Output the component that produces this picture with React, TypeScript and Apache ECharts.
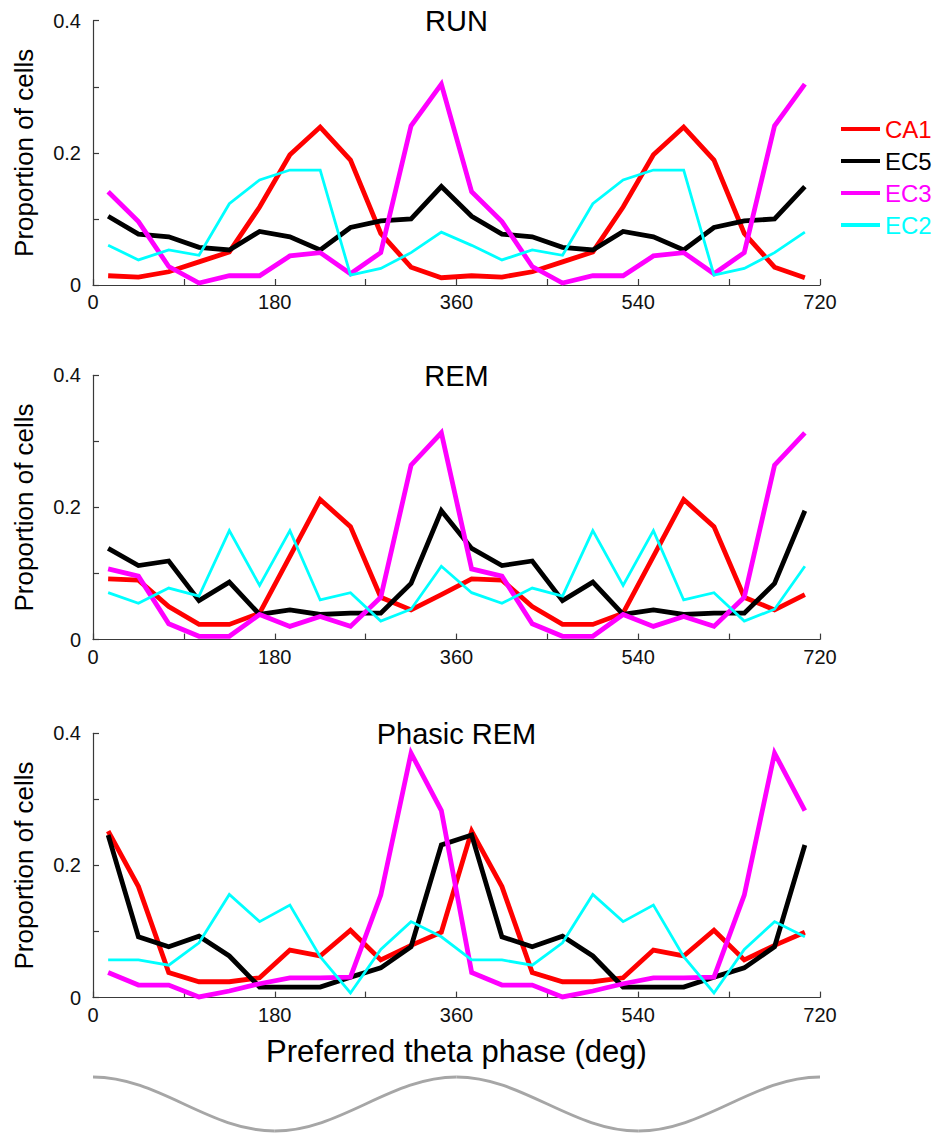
import React, { useEffect, useRef } from "react";
import * as echarts from "echarts";

// Phase bin centres (deg), two theta cycles shown
const phases = [15, 45, 75, 105, 135, 165, 195, 225, 255, 285, 315, 345,
  375, 405, 435, 465, 495, 525, 555, 585, 615, 645, 675, 705];
const xTicks = [0, 180, 360, 540, 720];
const yTicks = [0, 0.2, 0.4];
const seriesNames = ["CA1", "EC5", "EC3", "EC2"];
const seriesColors = ["#ff0000", "#000000", "#ff00ff", "#00ffff"];
const panelTitles = ["RUN", "REM", "Phasic REM"];

// One cycle (12 bins) per region; the figure repeats it over two cycles
const runCA1 = [0.014, 0.012, 0.02, 0.035, 0.05, 0.118, 0.197, 0.239, 0.189, 0.078, 0.027, 0.011];
const runEC5 = [0.104, 0.077, 0.073, 0.057, 0.053, 0.081, 0.073, 0.053, 0.087, 0.097, 0.1, 0.149];
const runEC3 = [0.141, 0.096, 0.028, 0.003, 0.014, 0.014, 0.044, 0.049, 0.017, 0.049, 0.241, 0.304];
const runEC2 = [0.06, 0.038, 0.053, 0.045, 0.123, 0.159, 0.174, 0.174, 0.015, 0.025, 0.049, 0.08];

const remCA1 = [0.092, 0.09, 0.05, 0.023, 0.023, 0.04, 0.126, 0.212, 0.171, 0.064, 0.045, 0.068];
const remEC5 = [0.138, 0.112, 0.119, 0.059, 0.087, 0.038, 0.045, 0.038, 0.04, 0.04, 0.085, 0.195];
const remEC3 = [0.107, 0.096, 0.024, 0.005, 0.005, 0.038, 0.02, 0.035, 0.02, 0.064, 0.264, 0.313];
const remEC2 = [0.071, 0.055, 0.078, 0.066, 0.165, 0.082, 0.165, 0.06, 0.071, 0.028, 0.046, 0.111];

const phCA1 = [0.252, 0.168, 0.038, 0.024, 0.024, 0.03, 0.072, 0.063, 0.102, 0.057, 0.079, 0.099];
const phEC5 = [0.246, 0.092, 0.077, 0.093, 0.063, 0.016, 0.016, 0.016, 0.031, 0.045, 0.077, 0.231];
const phEC3 = [0.038, 0.019, 0.019, 0.001, 0.01, 0.021, 0.03, 0.03, 0.031, 0.155, 0.37, 0.283];
const phEC2 = [0.057, 0.057, 0.049, 0.083, 0.156, 0.115, 0.14, 0.062, 0.007, 0.073, 0.115, 0.092];

const panels = [
  [runCA1, runEC5, runEC3, runEC2],
  [remCA1, remEC5, remEC3, remEC2],
  [phCA1, phEC5, phEC3, phEC2],
];

const FONT = "Liberation Sans";
const GRID_LEFT = 93;
const GRID_RIGHT = 820;
const gridTops = [20.7, 375.3, 733.3];
const GRID_H = 264.3;

export default function App() {
  const ref = useRef<HTMLDivElement>(null);
  useEffect(() => {
    if (!ref.current) return;
    const chart = echarts.init(ref.current, undefined, { renderer: "svg" });

    const grids = gridTops.map((t) => ({
      left: GRID_LEFT,
      top: t,
      width: GRID_RIGHT - GRID_LEFT,
      height: GRID_H,
      containLabel: false,
    }));

    const axisLine = { show: true, lineStyle: { color: "#3a3a3a", width: 1.2 } };
    const axisTick = { show: true, inside: true, length: 6, lineStyle: { color: "#3a3a3a", width: 1.2 } };

    const xAxes = gridTops.map((_, i) => ({
      type: "value",
      gridIndex: i,
      min: 0,
      max: 720,
      interval: 90,
      axisLine,
      axisTick,
      splitLine: { show: false },
      axisLabel: {
        fontFamily: FONT,
        fontSize: 20,
        color: "#111",
        margin: 7,
        formatter: (v: number) => (xTicks.includes(v) ? String(v) : ""),
      },
      name: i === 2 ? "Preferred theta phase (deg)" : "",
      nameLocation: "middle",
      nameGap: 38,
      nameTextStyle: { fontFamily: FONT, fontSize: 31, color: "#000" },
    }));

    const yAxes = gridTops.map((_, i) => ({
      type: "value",
      gridIndex: i,
      min: 0,
      max: 0.4,
      interval: 0.1,
      axisLine,
      axisTick,
      splitLine: { show: false },
      axisLabel: {
        fontFamily: FONT,
        fontSize: 20,
        color: "#111",
        margin: 12,
        formatter: (v: number) => {
          const m = yTicks.find((t) => Math.abs(t - v) < 1e-9);
          if (m === undefined) return "";
          return m === 0 ? "0" : m.toFixed(1);
        },
      },
      name: "Proportion of cells",
      nameLocation: "middle",
      nameGap: 56,
      nameTextStyle: { fontFamily: FONT, fontSize: 26, color: "#000" },
    }));

    const series: any[] = [];
    panels.forEach((vals, p) => {
      vals.forEach((cycle, s) => {
        const full = [...cycle, ...cycle];
        series.push({
          type: "line",
          name: seriesNames[s],
          xAxisIndex: p,
          yAxisIndex: p,
          data: phases.map((x, k) => [x, full[k]]),
          showSymbol: false,
          symbol: "none",
          color: seriesColors[s],
          lineStyle: { color: seriesColors[s], width: s === 3 ? 2.8 : 4.8, join: "miter" },
          z: 2 + s,
        });
      });
    });

    const titles = gridTops.map((t, i) => ({
      text: panelTitles[i],
      left: (GRID_LEFT + GRID_RIGHT) / 2,
      textAlign: "center",
      top: t - 14,
      padding: 0,
      textStyle: { fontFamily: FONT, fontSize: 29, fontWeight: "normal", color: "#000" },
    }));

    // decorative theta wave under the x axis
    const waveTop = 1077;
    const waveBot = 1131;
    const half = (GRID_RIGHT - GRID_LEFT) / 4;
    const cp = half * 0.3634;
    const wave: any[] = [];
    for (let k = 0; k < 4; k++) {
      const x1 = GRID_LEFT + k * half;
      const x2 = x1 + half;
      const y1 = k % 2 === 0 ? waveTop : waveBot;
      const y2 = k % 2 === 0 ? waveBot : waveTop;
      wave.push({
        type: "bezierCurve",
        shape: { x1, y1, x2, y2, cpx1: x1 + cp, cpy1: y1, cpx2: x2 - cp, cpy2: y2 },
        style: { stroke: "#a6a6a6", lineWidth: 3, fill: "none" },
        silent: true,
      });
    }

    chart.setOption({
      animation: false,
      backgroundColor: "#ffffff",
      title: titles,
      grid: grids,
      xAxis: xAxes,
      yAxis: yAxes,
      legend: {
        data: seriesNames.map((n, i) => ({ name: n, textStyle: { color: seriesColors[i] } })),
        orient: "vertical",
        left: 836,
        top: 112,
        icon: "rect",
        itemWidth: 39,
        itemHeight: 4,
        itemGap: 8,
        textStyle: { fontFamily: FONT, fontSize: 24 },
        selectedMode: false,
      },
      series,
      graphic: wave,
    });

    return () => chart.dispose();
  }, []);

  return (
    <div
      ref={ref}
      style={{ position: "fixed", left: 0, top: 0, width: 939, height: 1134, background: "#fff" }}
    />
  );
}
